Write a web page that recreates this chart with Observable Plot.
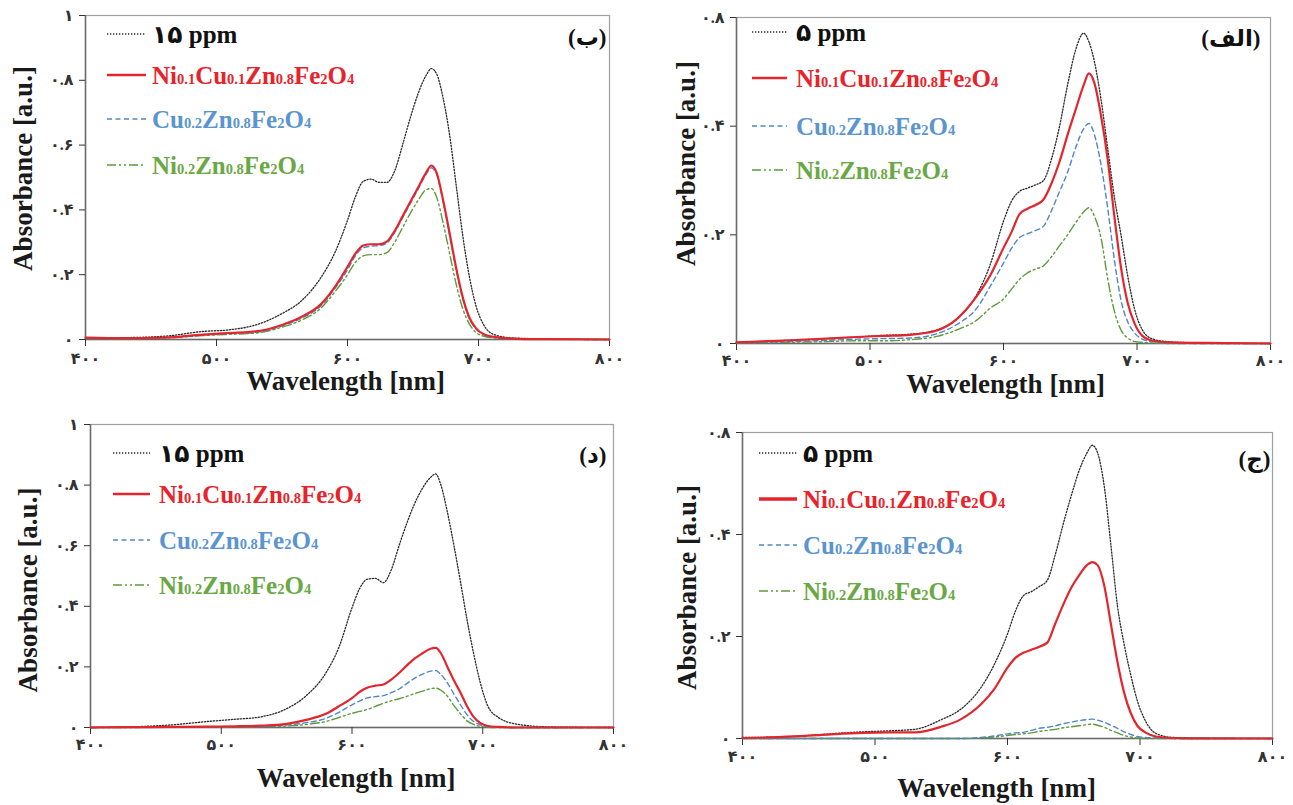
<!DOCTYPE html>
<html><head><meta charset="utf-8">
<script src="https://cdn.jsdelivr.net/npm/d3@7"></script>
<script src="https://cdn.jsdelivr.net/npm/@observablehq/plot@0.6"></script>
<style>
body{margin:0;background:#fff;}
#root{position:relative;width:1293px;height:805px;overflow:hidden;background:#fff;font-family:"Liberation Serif","Times New Roman","DejaVu Sans",serif;}
.panel{position:absolute;}
.panel svg.plot{position:absolute;left:0;top:0;}
.panel svg.plot g[aria-label="x-axis tick label"] text{letter-spacing:2.5px;}
.panel svg.plot g[aria-label="y-axis tick label"] text{letter-spacing:1px;}
.legend{position:absolute;left:0;top:0;font-weight:bold;font-size:25px;line-height:1;white-space:nowrap;}
.row{position:absolute;display:flex;align-items:center;height:30px;}
.row svg{display:block;flex:none;}
.row sub{font-size:0.58em;vertical-align:baseline;}
</style></head><body><div id="root"></div>
<script>
// ---------------- data ----------------
const wavelength = [400,430,460,490,510,530,550,565,580,590,600,606,612,618,624,630,636,642,648,654,660,664,668,673,678,683,688,693,698,704,712,725,750,800];
const xTicks = [400,500,600,700,800];
const xTickLabels = ["۴۰۰","۵۰۰","۶۰۰","۷۰۰","۸۰۰"];
const yTicksFull = [0,0.2,0.4,0.6,0.8,1];
const yTickLabelsFull = ["۰","۰.۲","۰.۴","۰.۶","۰.۸","۱"];
const yTicksHalf = [0,0.2,0.4,0.6];
const yTickLabelsHalf = ["۰","۰.۲","۰.۴","۰.۸"];
const seriesNames = ["ppm","Ni0.1Cu0.1Zn0.8Fe2O4","Cu0.2Zn0.8Fe2O4","Ni0.2Zn0.8Fe2O4"];
const ppmLabels = ["۱۵ ppm","۵ ppm","۱۵ ppm","۵ ppm"];
const panelLabels = ["(ب)","(الف)","(د)","(ج)"];
const xAxisLabel = "Wavelength [nm]";
const yAxisLabel = "Absorbance [a.u.]";

// panel (ب) top-left
const b_dye    = [0.006,0.006,0.010,0.025,0.030,0.045,0.080,0.120,0.193,0.265,0.368,0.440,0.488,0.495,0.485,0.485,0.520,0.600,0.685,0.760,0.815,0.836,0.820,0.745,0.630,0.475,0.320,0.195,0.105,0.045,0.015,0.005,0.002,0.000];
const b_nicuzn = [0.006,0.004,0.006,0.015,0.020,0.025,0.045,0.070,0.110,0.160,0.224,0.265,0.290,0.294,0.294,0.302,0.335,0.380,0.425,0.470,0.515,0.537,0.515,0.430,0.327,0.220,0.130,0.068,0.035,0.016,0.008,0.003,0.001,0.000];
const b_cuzn   = [0.005,0.004,0.006,0.014,0.018,0.022,0.042,0.066,0.105,0.155,0.215,0.258,0.283,0.288,0.290,0.298,0.330,0.375,0.420,0.465,0.510,0.530,0.510,0.425,0.320,0.215,0.125,0.065,0.033,0.015,0.007,0.003,0.001,0.000];
const b_nizn   = [0.004,0.003,0.005,0.012,0.016,0.020,0.038,0.060,0.098,0.145,0.200,0.238,0.258,0.262,0.262,0.268,0.300,0.345,0.390,0.430,0.462,0.466,0.440,0.360,0.265,0.170,0.095,0.048,0.022,0.010,0.005,0.002,0.001,0.000];
// panel (الف) top-right
const alef_dye    = [0.002,0.005,0.008,0.012,0.015,0.017,0.025,0.045,0.090,0.145,0.225,0.262,0.280,0.286,0.292,0.300,0.340,0.400,0.476,0.540,0.571,0.555,0.520,0.450,0.360,0.270,0.200,0.125,0.065,0.025,0.008,0.003,0.001,0.000];
const alef_nicuzn = [0.002,0.005,0.008,0.012,0.014,0.016,0.024,0.045,0.087,0.125,0.176,0.205,0.238,0.248,0.255,0.265,0.295,0.335,0.384,0.430,0.475,0.497,0.480,0.420,0.340,0.235,0.140,0.075,0.038,0.014,0.005,0.002,0.001,0.000];
const alef_cuzn   = [0.001,0.003,0.005,0.008,0.009,0.010,0.018,0.035,0.065,0.105,0.148,0.175,0.195,0.202,0.208,0.216,0.245,0.280,0.315,0.360,0.395,0.405,0.385,0.330,0.250,0.155,0.080,0.040,0.020,0.008,0.003,0.001,0.000,0.000];
const alef_nizn   = [0.001,0.002,0.003,0.005,0.005,0.007,0.013,0.025,0.043,0.065,0.082,0.100,0.118,0.130,0.137,0.143,0.160,0.180,0.200,0.222,0.242,0.250,0.235,0.195,0.120,0.060,0.025,0.010,0.004,0.002,0.001,0.000,0.000,0.000];
// panel (د) bottom-left
const dal_dye    = [0.000,0.002,0.008,0.020,0.027,0.035,0.062,0.105,0.180,0.265,0.395,0.460,0.490,0.492,0.478,0.520,0.600,0.675,0.740,0.790,0.825,0.837,0.800,0.710,0.600,0.480,0.355,0.245,0.150,0.070,0.033,0.012,0.002,0.000];
const dal_nicuzn = [0.000,0.001,0.002,0.003,0.004,0.006,0.012,0.025,0.045,0.070,0.097,0.118,0.132,0.138,0.142,0.158,0.180,0.205,0.228,0.245,0.260,0.263,0.245,0.200,0.155,0.115,0.070,0.035,0.015,0.005,0.002,0.000,0.000,0.000];
const dal_cuzn   = [0.000,0.001,0.001,0.002,0.003,0.004,0.008,0.016,0.030,0.050,0.075,0.088,0.098,0.102,0.105,0.115,0.127,0.145,0.163,0.176,0.186,0.188,0.175,0.147,0.110,0.075,0.042,0.020,0.009,0.003,0.001,0.000,0.000,0.000];
const dal_nizn   = [0.000,0.000,0.001,0.001,0.002,0.003,0.005,0.010,0.020,0.033,0.047,0.053,0.060,0.070,0.080,0.088,0.095,0.103,0.112,0.120,0.128,0.130,0.123,0.103,0.072,0.045,0.022,0.010,0.004,0.001,0.000,0.000,0.000,0.000];
// panel (ج) bottom-right
const jim_dye    = [0.002,0.003,0.008,0.013,0.015,0.018,0.037,0.058,0.100,0.145,0.205,0.250,0.280,0.288,0.298,0.310,0.360,0.420,0.475,0.525,0.560,0.575,0.560,0.495,0.380,0.260,0.185,0.125,0.074,0.035,0.010,0.002,0.001,0.000];
const jim_nicuzn = [0.001,0.003,0.007,0.011,0.012,0.012,0.023,0.038,0.067,0.097,0.139,0.158,0.168,0.174,0.180,0.188,0.225,0.262,0.295,0.320,0.340,0.346,0.340,0.300,0.225,0.150,0.090,0.050,0.025,0.012,0.004,0.001,0.000,0.000];
const jim_cuzn   = [0,0,0,0,0,0,0,0,0.002,0.005,0.009,0.011,0.012,0.016,0.020,0.022,0.025,0.029,0.032,0.035,0.037,0.038,0.036,0.032,0.026,0.020,0.013,0.008,0.004,0.002,0.001,0,0,0];
const jim_nizn   = [0,0,0,0,0,0,0,0,0.001,0.003,0.006,0.008,0.009,0.011,0.014,0.016,0.018,0.021,0.023,0.025,0.027,0.028,0.026,0.022,0.016,0.011,0.006,0.003,0.001,0,0,0,0,0];

// ---------------- styles & layout ----------------
const FONT = "'Liberation Serif', 'Times New Roman', 'DejaVu Sans', serif";
const seriesStyle = [
  {stroke:"#2a2a2a", width:1.3, dash:"1.3,1.7", text:"#111"},
  {stroke:"#e3262e", width:2.2, dash:null, text:"#e8232b"},
  {stroke:"#4f86c6", width:1.4, dash:"5,3.5", text:"#5b95d0"},
  {stroke:"#5e9a3c", width:1.4, dash:"9,3,2,3,2,3", text:"#6aa845"}
];
const panels = [
  {left:0, top:0, width:645, height:400, m:[15,36,61,85], yDomain:[0,1], yTicks:yTicksFull, yLabels:yTickLabelsFull,
   series:[b_dye,b_nicuzn,b_cuzn,b_nizn], ppm:ppmLabels[0], tag:panelLabels[0],
   xPad:6, xLab:[-2,42], yLab:[-62,-9], tagPos:[-3,22], lg:{x0:107,x1:146,tx:152,rows:[34,75,119,165],redW:2.6}},
  {left:648, top:0, width:645, height:400, m:[17,23,57,88], yDomain:[0,0.6], yTicks:yTicksHalf, yLabels:yTickLabelsHalf,
   series:[alef_dye,alef_nicuzn,alef_cuzn,alef_nizn], ppm:ppmLabels[1], tag:panelLabels[1],
   xPad:4, xLab:[2,41], yLab:[-50,-17], tagPos:[-10,21], lg:{x0:104,x1:139,tx:148,rows:[32,78,126,170],redW:2.6}},
  {left:0, top:400, width:645, height:405, m:[24,32,78,90], yDomain:[0,1], yTicks:yTicksFull, yLabels:yTickLabelsFull,
   series:[dal_dye,dal_nicuzn,dal_cuzn,dal_nizn], ppm:ppmLabels[2], tag:panelLabels[2],
   xPad:4, xLab:[4,51], yLab:[-62,14], tagPos:[-7,31], lg:{x0:113,x1:150,tx:159,rows:[53,94,140,185],redW:2.6}},
  {left:648, top:400, width:645, height:405, m:[32,21,67,94], yDomain:[0,0.6], yTicks:yTicksHalf, yLabels:yTickLabelsHalf,
   series:[jim_dye,jim_nicuzn,jim_cuzn,jim_nizn], ppm:ppmLabels[3], tag:panelLabels[3],
   xPad:5, xLab:[-11,50], yLab:[-55,2], tagPos:[-2,27], lg:{x0:111,x1:149,tx:155,rows:[53,99,145,191],redW:3.4}}
];

const root = document.getElementById("root");

function formula(s){ return s.replace(/(\d+(?:\.\d+)?)/g, "<sub>$1</sub>"); }

panels.forEach(p => {
  const wrap = document.createElement("div");
  wrap.className = "panel";
  Object.assign(wrap.style, {left:p.left+"px", top:p.top+"px", width:p.width+"px", height:p.height+"px"});
  const order = [0,3,2,1];
  const chart = Plot.plot({
    width:p.width, height:p.height,
    marginTop:p.m[0], marginRight:p.m[1], marginBottom:p.m[2], marginLeft:p.m[3],
    x:{domain:[400,800]},
    y:{domain:p.yDomain},
    style:{fontFamily:FONT, background:"transparent", overflow:"visible"},
    marks:[
      Plot.frame({stroke:"#a0a0a0", strokeWidth:1.2}),
      Plot.ruleY([0], {stroke:"#6a6a6a", strokeWidth:1.5}),
      Plot.ruleX([400], {stroke:"#6a6a6a", strokeWidth:1.5}),
      Plot.axisX({ticks:xTicks, tickFormat:d => xTickLabels[xTicks.indexOf(d)], tickSize:7, tickPadding:p.xPad,
        fontSize:16, fontWeight:"bold", fontFamily:FONT, label:null, color:"#333"}),
      Plot.axisY({ticks:p.yTicks, tickFormat:d => p.yLabels[p.yTicks.indexOf(d)], tickSize:6, tickPadding:6,
        fontSize:16, fontWeight:"bold", fontFamily:FONT, label:null, color:"#333"}),
      ...order.map(k => Plot.line(wavelength, {x:wavelength, y:p.series[k], stroke:seriesStyle[k].stroke,
        strokeWidth:seriesStyle[k].width, strokeDasharray:seriesStyle[k].dash, curve:"monotone-x"})),
      Plot.text([xAxisLabel], {text:d => d, frameAnchor:"bottom", textAnchor:"middle", lineAnchor:"middle",
        dx:p.xLab[0], dy:p.xLab[1], fontSize:27, fontWeight:"bold", fontFamily:FONT, fill:"#1a1a1a"}),
      Plot.text([yAxisLabel], {text:d => d, frameAnchor:"left", textAnchor:"middle", lineAnchor:"middle", rotate:-90,
        dx:p.yLab[0], dy:p.yLab[1], fontSize:27, fontWeight:"bold", fontFamily:FONT, fill:"#1a1a1a"}),
      Plot.text([p.tag], {text:d => d, frameAnchor:"top-right", textAnchor:"end", lineAnchor:"middle",
        dx:p.tagPos[0], dy:p.tagPos[1], fontSize:23, fontWeight:"bold", fontFamily:FONT, fill:"#111"})
    ]
  });
  chart.classList.add("plot");
  wrap.appendChild(chart);

  // legend overlay
  const lg = document.createElement("div");
  lg.className = "legend";
  seriesNames.forEach((name, i) => {
    const st = seriesStyle[i];
    const row = document.createElement("div");
    row.className = "row";
    row.style.left = p.lg.x0 + "px";
    row.style.top = (p.lg.rows[i] - 15) + "px";
    const sw = p.lg.tx - p.lg.x0;
    const lw = p.lg.x1 - p.lg.x0;
    const width = i === 1 ? p.lg.redW : st.width;
    row.innerHTML = `<svg width="${sw}" height="30"><line x1="0" x2="${lw}" y1="15" y2="15" stroke="${st.stroke}" stroke-width="${width}" ${st.dash ? `stroke-dasharray="${st.dash}"` : ""}/></svg>` +
      `<span style="color:${st.text}">${i === 0 ? p.ppm : formula(name)}</span>`;
    lg.appendChild(row);
  });
  wrap.appendChild(lg);
  root.appendChild(wrap);
});
</script></body></html>
